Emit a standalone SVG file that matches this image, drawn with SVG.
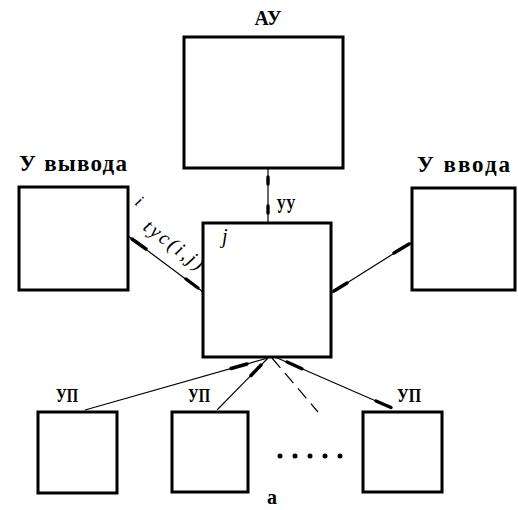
<svg xmlns="http://www.w3.org/2000/svg" width="518" height="510" viewBox="0 0 518 510">
<style>
.box{fill:#fff;stroke:#000;stroke-width:3}
.ln{stroke:#000;stroke-width:1.2;fill:none}
.dash{stroke:#000;stroke-width:1.2;fill:none;stroke-dasharray:13 7}
.tip{stroke:#000;stroke-width:3.4;stroke-linecap:round;fill:none}
.lbl{font-family:"Liberation Serif",serif;font-weight:bold;fill:#000}
.mono{font-family:"Liberation Serif",serif;font-weight:bold;font-size:23px;fill:#000}
.it{font-family:"Liberation Serif",serif;font-style:italic;fill:#000}
</style>
<rect width="518" height="510" fill="#fff"/>
<g id="connectors">
<line class="ln" x1="268" y1="168" x2="268" y2="223"/>
<line class="tip" x1="268" y1="177" x2="268" y2="184"/>
<line class="tip" x1="268" y1="206" x2="268" y2="213"/>
<line class="ln" x1="128" y1="236" x2="203" y2="292"/>
<line class="tip" x1="132" y1="239" x2="146" y2="249"/>
<line class="tip" x1="186" y1="279" x2="198" y2="288"/>
<line class="ln" x1="412" y1="242" x2="331" y2="293"/>
<line class="tip" x1="394" y1="253" x2="409" y2="244"/>
<line class="tip" x1="334" y1="291" x2="347" y2="283"/>
<line class="ln" x1="268" y1="358" x2="85" y2="410"/>
<line class="tip" x1="231" y1="368.5" x2="247" y2="364"/>
<line class="ln" x1="268" y1="358" x2="217" y2="410"/>
<line class="tip" x1="251" y1="375.5" x2="261" y2="365"/>
<line class="dash" x1="272" y1="358" x2="318" y2="412"/>
<line class="ln" x1="275" y1="357" x2="392" y2="408"/>
<line class="tip" x1="287" y1="362" x2="302" y2="368.8"/>
<line class="tip" x1="376" y1="401" x2="391" y2="407.5"/>
</g>
<g id="AU">
<rect class="box" x="184" y="37" width="159" height="131"/>
<text class="lbl" x="268" y="25" font-size="22" text-anchor="middle" textLength="27" lengthAdjust="spacingAndGlyphs">АУ</text>
</g>
<g id="UU">
<rect class="box" x="203" y="223" width="128" height="134"/>
<text class="lbl" x="286" y="213" font-size="20" text-anchor="middle" textLength="19" lengthAdjust="spacingAndGlyphs">УУ</text>
<text class="it" x="222" y="243" font-size="20">j</text>
</g>
<g id="Uvyvoda">
<rect class="box" x="19" y="187" width="109" height="103"/>
<text class="mono" x="19" y="171" textLength="108" lengthAdjust="spacing">У вывода</text>
</g>
<g id="Uvvoda">
<rect class="box" x="412" y="188" width="103" height="102"/>
<text class="mono" x="417" y="172" textLength="93" lengthAdjust="spacing">У ввода</text>
</g>
<g id="UP1">
<rect class="box" x="38" y="412" width="79" height="81"/>
<text class="lbl" x="67" y="402" font-size="18" text-anchor="middle" textLength="22" lengthAdjust="spacingAndGlyphs">УП</text>
</g>
<g id="UP2">
<rect class="box" x="172" y="412" width="76" height="80"/>
<text class="lbl" x="199" y="402" font-size="18" text-anchor="middle" textLength="22" lengthAdjust="spacingAndGlyphs">УП</text>
</g>
<g id="UP3">
<rect class="box" x="363" y="412" width="79" height="80"/>
<text class="lbl" x="409" y="402" font-size="18" text-anchor="middle" textLength="24" lengthAdjust="spacingAndGlyphs">УП</text>
</g>
<g id="labels">
<text class="it" x="134" y="204" font-size="17" transform="rotate(37 134 204)">i</text>
<text class="it" x="0" y="0" font-size="20" transform="translate(170 250) rotate(37)" text-anchor="middle" textLength="70" lengthAdjust="spacing">tус(i,j)</text>
<circle cx="280" cy="456" r="2.5"/>
<circle cx="295" cy="456" r="2.5"/>
<circle cx="310" cy="456" r="2.5"/>
<circle cx="325" cy="456" r="2.5"/>
<circle cx="340" cy="456" r="2.5"/>
<text class="lbl" x="272" y="504" font-size="20" text-anchor="middle">а</text>
</g>
</svg>
